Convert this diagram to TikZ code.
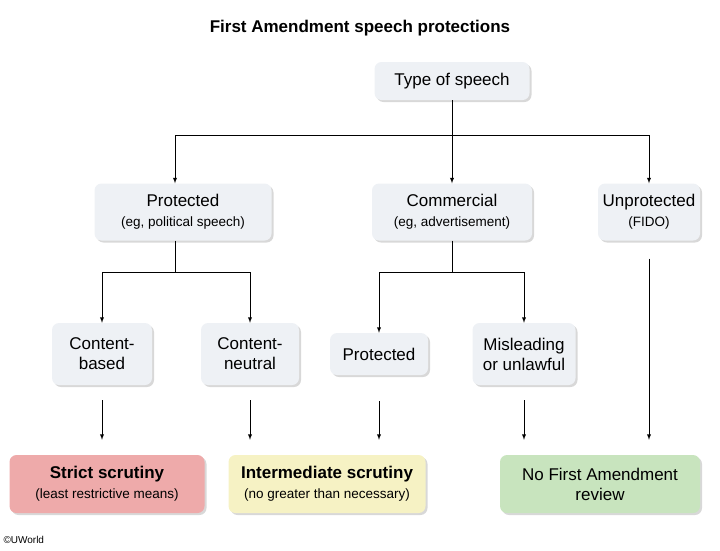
\documentclass[tikz,border=0pt]{standalone}
\usepackage{fontspec}
\setmainfont{Liberation Sans}
\usetikzlibrary{shadows}
\definecolor{boxgray}{RGB}{238,241,245}
\definecolor{strictred}{RGB}{238,170,170}
\definecolor{midyellow}{RGB}{246,242,196}
\definecolor{nogreen}{RGB}{200,228,190}
\newcommand{\subtxt}[1]{{\fontsize{13.5}{16}\selectfont #1}}
\tikzset{
  box/.style={draw=none, fill=boxgray, rounded corners=7pt, align=center,
    drop shadow={shadow xshift=2pt, shadow yshift=-2pt, fill=black!30},
    font=\fontsize{17}{20}\selectfont, inner sep=3pt},
  arr/.style={-latex, line width=0.9pt},
  ln/.style={line width=0.9pt}
}
\begin{document}
\begin{tikzpicture}[x=1pt, y=-1pt]
  \useasboundingbox (0,0) rectangle (720,550);

  % Title
  \node[font=\bfseries\fontsize{17}{20}\selectfont] (title) at (360,28) {First Amendment speech protections};

  % Top level
  \node[box, minimum width=155pt, minimum height=38pt] (type) at (452,81) {Type of speech};
  \node[box, minimum width=177pt, minimum height=57pt] (prot) at (183,212) {Protected\\\subtxt{(eg, political speech)}};
  \node[box, minimum width=160pt, minimum height=57pt] (comm) at (452,212) {Commercial\\\subtxt{(eg, advertisement)}};
  \node[box, minimum width=102pt, minimum height=57pt] (unprot) at (649,212) {Unprotected\\\subtxt{(FIDO)}};

  % Second level
  \node[box, minimum width=100pt, minimum height=62pt] (cbased) at (102,354) {Content-\\based};
  \node[box, minimum width=98pt, minimum height=62pt] (cneutral) at (250,354) {Content-\\neutral};
  \node[box, minimum width=98pt, minimum height=42pt] (cprot) at (379,354) {Protected};
  \node[box, minimum width=103pt, minimum height=62pt] (mislead) at (524,354) {Misleading\\or unlawful};

  % Outcomes
  \node[box, fill=strictred, minimum width=195pt, minimum height=58pt] (strict) at (107,484) {\textbf{Strict scrutiny}\\\subtxt{(least restrictive means)}};
  \node[box, fill=midyellow, minimum width=197pt, minimum height=58pt] (inter) at (327,484) {\textbf{Intermediate scrutiny}\\\subtxt{(no greater than necessary)}};
  \node[box, fill=nogreen, minimum width=200pt, minimum height=58pt] (none) at (600,484) {No First Amendment\\review};

  \node[font=\fontsize{10}{12}\selectfont, anchor=west] (uw) at (0,540) {\textcopyright UWorld};

  % Bus coordinates
  \coordinate (bus1) at (452,135);
  \coordinate (bus2) at (175,272);
  \coordinate (bus3) at (452,272);

  \draw[ln] (type) -- (bus1);
  \draw[arr] (bus1) -| (prot.north -| 175,0);
  \draw[arr] (bus1) -- (comm);
  \draw[arr] (bus1) -| (unprot);

  \draw[ln] (prot.south -| bus2) -- (bus2);
  \draw[arr] (bus2) -| (cbased);
  \draw[arr] (bus2) -| (cneutral);
  \draw[ln] (comm) -- (bus3);
  \draw[arr] (bus3) -| (cprot);
  \draw[arr] (bus3) -| (mislead);

  \draw[arr] ([yshift=-15pt]cbased.south) -- ([yshift=15pt]strict.north -| cbased);
  \draw[arr] ([yshift=-15pt]cneutral.south) -- ([yshift=15pt]inter.north -| cneutral);
  \draw[arr] ([yshift=-26pt]cprot.south) -- ([yshift=15pt]inter.north -| cprot);
  \draw[arr] ([yshift=-15pt]mislead.south) -- ([yshift=15pt]none.north -| mislead);
  \draw[arr] ([yshift=-18pt]unprot.south) -- ([yshift=15pt]none.north -| unprot);
\end{tikzpicture}
\end{document}
